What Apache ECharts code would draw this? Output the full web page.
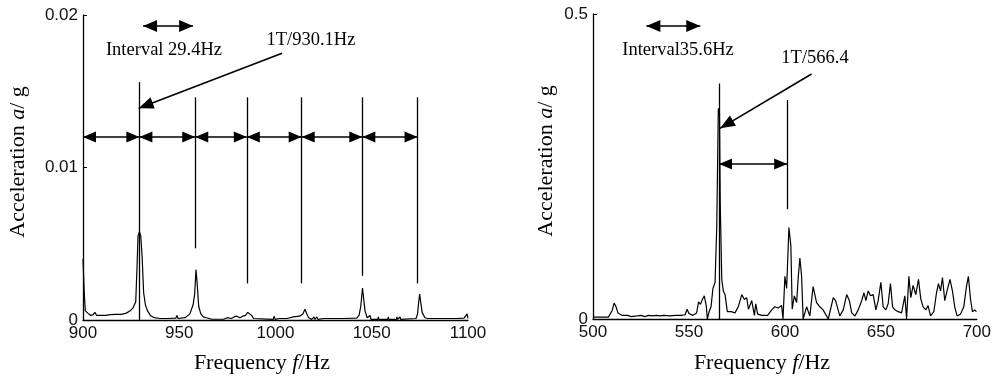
<!DOCTYPE html>
<html><head><meta charset="utf-8">
<script src="https://cdn.jsdelivr.net/npm/echarts@6/dist/echarts.min.js"></script>
<style>html,body{margin:0;padding:0;background:#fff}#c{width:994px;height:383px}</style>
</head><body><div id="c"></div>
<script>
// ---------- Left spectrum (900-1100 Hz) ----------
const freqL = [900, 900.6, 901.2, 902.5, 904, 905.3, 906.2, 907.1, 909, 912,
 914, 917, 920, 922.5, 924.5, 926, 927.4, 928.1, 928.6, 929.3,
 930, 930.7, 931.5, 932.4, 933.5, 935, 937, 940, 944, 948.2,
 948.8, 949.4, 953, 955.5, 957.2, 958, 958.7, 959.3, 960.1, 961.2,
 962.5, 964, 964.4, 965, 967, 973, 975, 977, 978.5, 979.9,
 981.5, 983, 984.4, 985.6, 986.6, 987.6, 988.6, 989.6, 998.8, 999.3,
 999.8, 1002, 1006, 1009.3, 1012.5, 1014.2, 1015.3, 1016.3, 1017.2, 1018.8,
 1020, 1020.4, 1021.5, 1022, 1025, 1035, 1042.2, 1043.4, 1044.3, 1045.2,
 1045.8, 1046.5, 1047.6, 1048.6, 1049.1, 1049.6, 1053.1, 1053.4, 1053.7, 1058.3,
 1058.6, 1058.9, 1062.8, 1063.1, 1063.4, 1064.4, 1064.7, 1065, 1073, 1073.8,
 1074.3, 1074.9, 1075.5, 1076.2, 1077.6, 1079, 1094, 1098, 1099.5, 1100];
const accL = [0.0040, 0.0019, 0.0006, 0.00045, 0.0003, 0.00035, 0.0005, 0.0003, 0.0003, 0.0003,
 0.00035, 0.00037, 0.00037, 0.00045, 0.0006, 0.0008, 0.0012, 0.0036, 0.0055, 0.0058,
 0.0055, 0.0042, 0.0018, 0.0010, 0.0006, 0.0003, 0.00015, 0.0001, 0.0001, 0.00012,
 0.0003, 0.0001, 0.00015, 0.0004, 0.001, 0.0017, 0.0033, 0.0024, 0.0009, 0.0004,
 0.0002, 0.00015, 0.00025, 0.0001, 0.00005, 0.00005, 0.00015, 0.0001, 0.0002, 0.00025,
 0.00015, 0.00025, 0.0003, 0.0005, 0.0006, 0.0003, 0.0001, 0.00004, 0.00004, 0.00025,
 0.00004, 0.0001, 0.0001, 0.0002, 0.00025, 0.0004, 0.0007, 0.0004, 0.00015, 0.00004,
 0.0002, 0.00004, 0.0002, 0.00004, 0.0001, 0.0001, 0.00012, 0.0003, 0.0009, 0.0021,
 0.0014, 0.0006, 0.00015, 0.0001, 0.0003, 0.00004, 0.00004, 0.0002, 0.00004, 0.00004,
 0.0002, 0.00004, 0.00004, 0.0002, 0.00004, 0.00004, 0.0002, 0.00004, 0.0001, 0.0004,
 0.0011, 0.0017, 0.0011, 0.0005, 0.00015, 0.0001, 0.0001, 0.00012, 0.0004, 0.0001];

// ---------- Right spectrum (500-700 Hz) ----------
const freqR = [500, 501, 502, 503, 504, 505, 506, 507, 508, 509,
 510, 511, 512, 513, 514, 515, 516, 518, 520, 521,
 523, 525, 527, 529, 531, 533, 535, 537, 540, 543,
 546, 548, 549, 550, 551, 552, 553, 554, 555, 556,
 557, 558, 559, 559.6, 560.5, 561.5, 562.5, 563.6, 564.5, 565.3,
 565.9, 566.3, 567.1, 568, 568.8, 570, 570.5, 572, 574, 575,
 575.7, 577.5, 578.9, 580.1, 581, 582.7, 584.1, 584.8, 585.8, 588,
 591, 593.1, 594.8, 596.5, 598.3, 599, 600, 600.9, 602.1, 603.1,
 603.8, 604.9, 606.1, 607, 607.8, 608.7, 609.5, 611.3, 613, 614.7,
 616.5, 618.2, 619.9, 622.6, 625.2, 626.4, 628.6, 630.4, 632.2, 633.6,
 634.8, 636.5, 638.2, 640, 641.2, 642.2, 643.4, 644.6, 646, 647.4,
 648.6, 650, 651.2, 652.6, 653.8, 655, 656.1, 657.3, 659, 660.8,
 662.5, 663.4, 664.6, 665.6, 666.8, 668.2, 669.6, 670.8, 672, 673.4,
 674.6, 675.9, 677.6, 679, 680, 681.1, 682.1, 683.3, 684.5, 686,
 687.3, 688.5, 689.7, 691.5, 693.2, 694.6, 695.6, 696.7, 697.7, 698.9,
 699.8, 700];
const accR = [0.003, 0.002, 0.003, 0.001, 0.003, 0.002, 0.003, 0.002, 0.003, 0.006,
 0.014, 0.026, 0.02, 0.01, 0.007, 0.006, 0.005, 0.006, 0.004, 0.006,
 0.005, 0.006, 0.004, 0.006, 0.005, 0.006, 0.005, 0.006, 0.005, 0.006,
 0.006, 0.007, 0.016, 0.009, 0.006, 0.006, 0.008, 0.01, 0.028, 0.024,
 0.032, 0.038, 0.022, 0.0, 0.012, 0.02, 0.05, 0.06, 0.153, 0.345,
 0.34, 0.19, 0.064, 0.045, 0.04, 0.012, 0.01, 0.012, 0.01, 0.012,
 0.02, 0.04, 0.032, 0.035, 0.016, 0.03, 0.006, 0.025, 0.008, 0.006,
 0.006, 0.015, 0.02, 0.018, 0.022, 0.0, 0.07, 0.05, 0.15, 0.12,
 0.016, 0.038, 0.027, 0.07, 0.1, 0.07, 0.0, 0.02, 0.005, 0.053,
 0.027, 0.02, 0.015, 0.0, 0.035, 0.03, 0.005, 0.015, 0.04, 0.03,
 0.01, 0.005, 0.015, 0.03, 0.043, 0.03, 0.046, 0.038, 0.04, 0.015,
 0.03, 0.06, 0.02, 0.015, 0.025, 0.058, 0.02, 0.015, 0.012, 0.01,
 0.038, 0.0, 0.07, 0.035, 0.055, 0.04, 0.065, 0.033, 0.02, 0.015,
 0.022, 0.005, 0.012, 0.043, 0.058, 0.046, 0.068, 0.03, 0.046, 0.065,
 0.046, 0.02, 0.005, 0.008, 0.02, 0.053, 0.07, 0.033, 0.012, 0.015,
 0.012, 0.012];

// ---------- Axis ticks ----------
const xTicksL = [900, 950, 1000, 1050, 1100];
const yTicksL = [0, 0.01, 0.02];
const xTicksR = [500, 550, 600, 650, 700];
const yTicksR = [0, 0.5];

// ---------- Annotations (data space) ----------
const markersL = [929.3, 958.3, 985.1, 1013.6, 1045.1, 1073.8];
const markerTopL = [0.0156, 0.0146, 0.0146, 0.0146, 0.0146, 0.0146];
const markerBotL = [0, 0.0047, 0.0024, 0.0024, 0.0029, 0.0024];
const arrowLevelL = 0.012;
const intervalArrowL = [931.2, 957.2, 0.01928];
const pointerL = [[1003.4, 0.01749], [928.9, 0.01388]];

const markersR = [565.7, 601.2];
const markerTopR = [0.386, 0.359];
const markerBotR = [0, 0.18];
const arrowLevelR = 0.254;
const intervalArrowR = [527.8, 555.9, 0.4803];
const pointerR = [[613.9, 0.4016], [566.2, 0.3126]];

const textsL = ['Interval 29.4Hz', '1T/930.1Hz'];
const textsR = ['Interval35.6Hz', '1T/566.4'];

// ---------- Build ----------
const TRI = 'path://M0,-12M0,0L5,12L-5,12Z';
function vline(x, y0, y1) { return [{coord: [x, y0], symbol: 'none'}, {coord: [x, y1], symbol: 'none'}]; }
function dbl(x0, x1, y, size) {
  return [{coord: [x0, y], symbol: TRI, symbolSize: size, lineStyle: {width: 1.6}},
          {coord: [x1, y], symbol: TRI, symbolSize: size}];
}
function ptr(p, size) {
  return [{coord: p[0], symbol: 'none', lineStyle: {width: 1.6}}, {coord: p[1], symbol: TRI, symbolSize: size}];
}
const mlL = [];
markersL.forEach((m, i) => mlL.push(vline(m, markerTopL[i], markerBotL[i])));
const bounds = [xTicksL[0]].concat(markersL);
for (let i = 0; i < bounds.length - 1; i++) mlL.push(dbl(bounds[i], bounds[i + 1], arrowLevelL, [11, 26]));
mlL.push(dbl(intervalArrowL[0], intervalArrowL[1], intervalArrowL[2], [12, 28]));
mlL.push(ptr(pointerL, [12, 30]));

const mlR = [];
markersR.forEach((m, i) => mlR.push(vline(m, markerTopR[i], markerBotR[i])));
mlR.push(dbl(markersR[0], markersR[1], arrowLevelR, [11, 26]));
mlR.push(dbl(intervalArrowR[0], intervalArrowR[1], intervalArrowR[2], [12, 28]));
mlR.push(ptr(pointerR, [12, 30]));

const axisFont = {fontFamily: 'Liberation Sans', fontSize: 17, color: '#111', formatter: v => String(v)};
function xAx(ticks, gi) {
  return {type: 'value', gridIndex: gi, min: ticks[0], max: ticks[ticks.length - 1], interval: ticks[1] - ticks[0],
    axisLine: {show: true, onZero: false, lineStyle: {color: '#000', width: 1.3}},
    axisTick: {show: false}, splitLine: {show: false},
    axisLabel: Object.assign({margin: 5, showMinLabel: true, showMaxLabel: true}, axisFont)};
}
function yAx(ticks, gi) {
  return {type: 'value', gridIndex: gi, min: ticks[0], max: ticks[ticks.length - 1], interval: ticks[1] - ticks[0],
    axisLine: {show: true, onZero: false, lineStyle: {color: '#000', width: 1.3}},
    axisTick: {show: true, inside: true, length: 4, lineStyle: {color: '#000'}}, splitLine: {show: false},
    axisLabel: Object.assign({margin: 5, showMinLabel: true, showMaxLabel: true}, axisFont)};
}
function markLineOpt(data) {
  return {silent: true, animation: false, symbol: ['none', 'none'], label: {show: false},
    emphasis: {disabled: true}, lineStyle: {type: 'solid', color: '#000', width: 1.3, opacity: 1},
    itemStyle: {color: '#000'}, data: data};
}
const serif = 'Liberation Serif';
const rich = {n: {fontFamily: serif, fontSize: 22, color: '#000'}, i: {fontFamily: serif, fontSize: 22, fontStyle: 'italic', color: '#000'}};
function txt(x, y, s, size) {
  return {type: 'text', x: x, y: y, style: {text: s, fontFamily: serif, fontSize: size, fill: '#000', align: 'center', verticalAlign: 'middle'}};
}
function richTxt(x, y, s, rot) {
  return {type: 'text', x: x, y: y, rotation: rot || 0, style: {text: s, rich: rich, align: 'center', verticalAlign: 'middle', fontFamily: serif, fontSize: 22}};
}

const option = {
  animation: false,
  backgroundColor: '#fff',
  grid: [
    {left: 83, top: 15, width: 385, height: 305},
    {left: 593, top: 14, width: 384, height: 305}
  ],
  xAxis: [xAx(xTicksL, 0), xAx(xTicksR, 1)],
  yAxis: [yAx(yTicksL, 0), yAx(yTicksR, 1)],
  series: [
    {type: 'line', xAxisIndex: 0, yAxisIndex: 0, showSymbol: false, symbol: 'none',
     lineStyle: {color: '#000', width: 1.2}, data: freqL.map((f, i) => [f, accL[i]]),
     markLine: markLineOpt(mlL)},
    {type: 'line', xAxisIndex: 1, yAxisIndex: 1, showSymbol: false, symbol: 'none',
     lineStyle: {color: '#000', width: 1.2}, data: freqR.map((f, i) => [f, accR[i]]),
     markLine: markLineOpt(mlR)}
  ],
  graphic: [
    txt(164, 50, textsL[0], 18.5),
    txt(311, 40, textsL[1], 18.5),
    txt(678, 50, textsR[0], 18.5),
    txt(815, 58, textsR[1], 18.5),
    richTxt(262, 363, '{n|Frequency }{i|f}{n|/Hz}'),
    richTxt(762, 363, '{n|Frequency }{i|f}{n|/Hz}'),
    richTxt(18, 162, '{n|Acceleration }{i|a}{n|/ g}', Math.PI / 2),
    richTxt(546, 161, '{n|Acceleration }{i|a}{n|/ g}', Math.PI / 2)
  ]
};
const chart = echarts.init(document.getElementById('c'));
chart.setOption(option);
</script></body></html>
